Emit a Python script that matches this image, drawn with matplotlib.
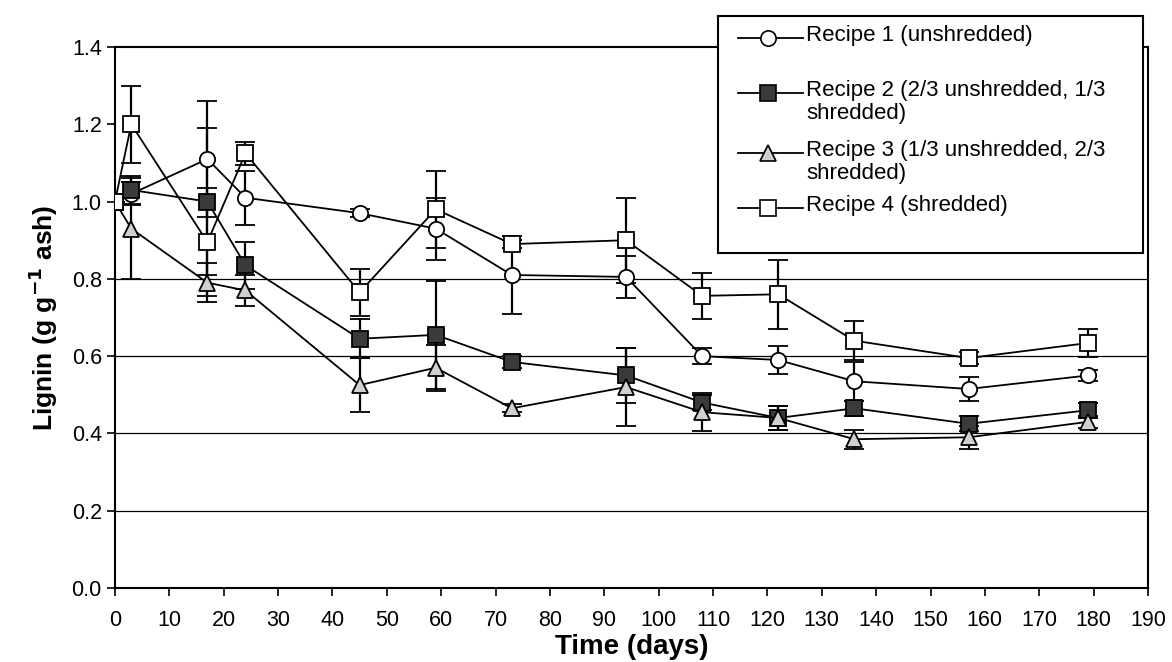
import numpy as np
import matplotlib.pyplot as plt

plt.rcParams['font.family'] = ['Liberation Sans', 'DejaVu Sans']

# sampling days (same for all recipes)
days = [0, 3, 17, 24, 45, 59, 73, 94, 108, 122, 136, 157, 179]

# lignin, g g-1 ash
recipe1 = [1.00, 1.02, 1.11, 1.01, 0.97, 0.93, 0.81, 0.805, 0.60, 0.59, 0.535, 0.515, 0.55]
recipe2 = [1.00, 1.03, 1.00, 0.835, 0.645, 0.655, 0.585, 0.55, 0.48, 0.44, 0.465, 0.425, 0.46]
recipe3 = [1.00, 0.93, 0.79, 0.77, 0.525, 0.57, 0.465, 0.52, 0.455, 0.44, 0.385, 0.39, 0.43]
recipe4 = [1.00, 1.20, 0.895, 1.125, 0.765, 0.98, 0.89, 0.90, 0.756, 0.76, 0.64, 0.595, 0.634]

# error bars (+/-)
err1 = [0, 0.03, 0.15, 0.07, 0.01, 0.08, 0.10, 0.055, 0.02, 0.035, 0.05, 0.03, 0.015]
err2 = [0, 0.035, 0.19, 0.06, 0.05, 0.14, 0.015, 0.07, 0.02, 0.03, 0.02, 0.02, 0.02]
err3 = [0, 0.13, 0.05, 0.04, 0.07, 0.06, 0.01, 0.10, 0.05, 0.03, 0.025, 0.03, 0.015]
err4 = [0, 0.10, 0.14, 0.03, 0.06, 0.10, 0.01, 0.11, 0.06, 0.09, 0.05, 0.015, 0.035]

labels = ['Recipe 1 (unshredded)',
          'Recipe 2 (2/3 unshredded, 1/3\nshredded)',
          'Recipe 3 (1/3 unshredded, 2/3\nshredded)',
          'Recipe 4 (shredded)']

grid_levels = [0.2, 0.4, 0.6, 0.8]
xticks = np.arange(0, 191, 10)
yticks = np.arange(0, 1.41, 0.2)

styles = [dict(marker='o', mfc='white', mec='black', ms=11),
          dict(marker='s', mfc='#3a3a3a', mec='black', ms=11),
          dict(marker='^', mfc='#d0d0d0', mec='black', ms=11),
          dict(marker='s', mfc='white', mec='black', ms=12)]

fig = plt.figure(figsize=(11.72, 6.62), dpi=100)
ax = fig.add_axes([0.0981, 0.1118, 0.8814, 0.8172])

for lev in grid_levels:
    ax.axhline(lev, color='black', lw=0.9, zorder=0)

series = [(recipe1, err1), (recipe2, err2), (recipe3, err3), (recipe4, err4)]
for (vals, err), st in zip(series, styles):
    ax.errorbar(days, vals, yerr=err, color='black', lw=1.3, elinewidth=1.6,
                capsize=7, capthick=1.6, mew=1.3, zorder=3, **st)

ax.set_xlim(0, 190)
ax.set_ylim(0, 1.4)
ax.set_xticks(xticks)
ax.set_yticks(yticks)
ax.set_yticklabels(['%.1f' % v for v in yticks])
ax.tick_params(direction='out', length=6, width=1.2, labelsize=15.5, colors='black')
ax.tick_params(axis='x', pad=10)
for s in ax.spines.values():
    s.set_linewidth(1.5)
    s.set_color('black')

ax.set_xlabel('Time (days)', fontsize=20, fontweight='bold', labelpad=2)
ax.set_ylabel(r'Lignin (g g$^{\mathbf{-1}}$ ash)', fontsize=19, fontweight='bold', labelpad=8)

# legend drawn by hand so that the handles sit on the first text line
lax = fig.add_axes([0.6126, 0.6178, 0.3626, 0.358], zorder=5)
lax.set_xlim(0, 425)
lax.set_ylim(237, 0)
lax.set_xticks([])
lax.set_yticks([])
lax.set_facecolor('white')
for s in lax.spines.values():
    s.set_linewidth(1.5)
    s.set_color('black')

rows = [22, 77, 137, 192]
for lab, st, y in zip(labels, styles, rows):
    lax.plot([20, 85], [y, y], color='black', lw=1.3)
    lax.plot([50], [y], color='black', mew=1.2, **st)
    lax.text(88, y - 13, lab, fontsize=16, va='top', ha='left', linespacing=1.1)

fig.savefig('out.png', dpi=100)
